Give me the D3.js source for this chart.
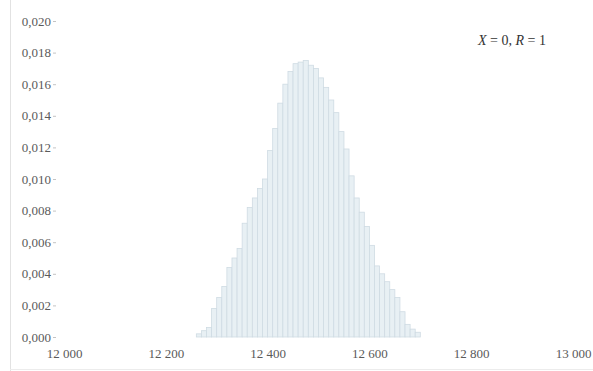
<!DOCTYPE html>
<html>
<head>
<meta charset="utf-8">
<script src="https://cdn.jsdelivr.net/npm/d3@7"></script>
<style>
  html, body { margin: 0; padding: 0; background: #fff; }
  svg { display: block; }
</style>
</head>
<body>
<svg id="chart" width="593" height="371"></svg>
<script>
// Histogram bins: left edge of each bin (width binWidth) and its relative frequency
const binWidth = 10;
const binStarts = [
  12260, 12270, 12280, 12290, 12300, 12310, 12320, 12330, 12340, 12350,
  12360, 12370, 12380, 12390, 12400, 12410, 12420, 12430, 12440, 12450,
  12460, 12470, 12480, 12490, 12500, 12510, 12520, 12530, 12540, 12550,
  12560, 12570, 12580, 12590, 12600, 12610, 12620, 12630, 12640, 12650,
  12660, 12670, 12680, 12690
];
const frequencies = [
  0.0002, 0.0004, 0.0006, 0.0018, 0.0025, 0.0032, 0.0044, 0.0050, 0.0056, 0.0072,
  0.0082, 0.0088, 0.0094, 0.0100, 0.0118, 0.0132, 0.0148, 0.0160, 0.0168, 0.0173,
  0.0174, 0.0175, 0.0172, 0.0170, 0.0164, 0.0158, 0.0150, 0.0142, 0.0130, 0.0119,
  0.0102, 0.0088, 0.0079, 0.0070, 0.0058, 0.0045, 0.0040, 0.0035, 0.0030, 0.0025,
  0.0016, 0.0008, 0.0005, 0.0003
];
const xTicks = [12000, 12200, 12400, 12600, 12800, 13000];
const yTicks = [0, 0.002, 0.004, 0.006, 0.008, 0.010, 0.012, 0.014, 0.016, 0.018, 0.020];
const annotation = ["X", " = 0, ", "R", " = 1"];

const serif = "Liberation Serif, DejaVu Serif, serif";
const svg = d3.select("#chart");

// Comma decimals and space-grouped thousands
const locale = d3.formatLocale({ decimal: ",", thousands: " ", grouping: [3], currency: ["", ""] });
const fmtX = locale.format(",d");
const fmtY = locale.format(".3f");

const x = d3.scaleLinear().domain([12000, 13000]).range([64, 573]);
const y = d3.scaleLinear().domain([0, 0.020]).range([337, 21]);

// Faint frame lines at the left and bottom edges
svg.append("line").attr("x1", 10.5).attr("x2", 10.5).attr("y1", 0).attr("y2", 371)
  .attr("stroke", "#e2e2e2").attr("stroke-width", 1);
svg.append("line").attr("x1", 10).attr("x2", 593).attr("y1", 369.5).attr("y2", 369.5)
  .attr("stroke", "#ececec").attr("stroke-width", 1);

// Bars
svg.append("g")
  .selectAll("rect")
  .data(binStarts.map((s, i) => ({ s, v: frequencies[i] })))
  .join("rect")
  .attr("x", d => x(d.s))
  .attr("width", d => x(d.s + binWidth) - x(d.s))
  .attr("y", d => y(d.v))
  .attr("height", d => y(0) - y(d.v))
  .attr("fill", "#e8f0f4")
  .attr("stroke", "#cfdbe3")
  .attr("stroke-width", 0.8);

// Y axis: labels with short ticks, no domain line
const yAxis = svg.append("g")
  .attr("transform", "translate(56,0)")
  .call(d3.axisLeft(y).tickValues(yTicks).tickFormat(fmtY).tickSize(3).tickPadding(2))
  .attr("font-family", serif)
  .attr("font-size", 13);
yAxis.select(".domain").remove();
yAxis.selectAll(".tick line").attr("stroke", "#c4c4c4");
yAxis.selectAll(".tick text").attr("fill", "#5a5a5a");

// X axis: labels only
const xAxis = svg.append("g")
  .attr("transform", "translate(0,343)")
  .call(d3.axisBottom(x).tickValues(xTicks).tickFormat(fmtX).tickSize(0).tickPadding(6))
  .attr("font-family", serif)
  .attr("font-size", 13);
xAxis.select(".domain").remove();
xAxis.selectAll(".tick text").attr("fill", "#5a5a5a");

// Parameter note in the upper right
const note = svg.append("text")
  .attr("x", 478).attr("y", 45)
  .attr("font-family", serif)
  .attr("font-size", 14)
  .attr("fill", "#333");
annotation.forEach((t, i) => {
  note.append("tspan").attr("font-style", i % 2 === 0 ? "italic" : "normal").text(t);
});
</script>
</body>
</html>
